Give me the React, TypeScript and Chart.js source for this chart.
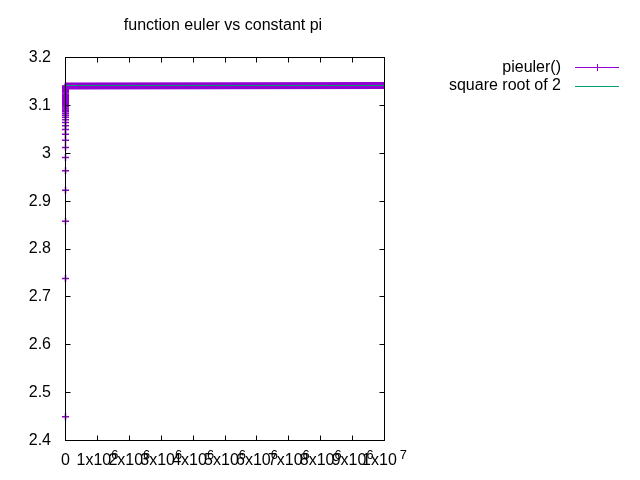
import React, { useEffect, useRef } from "react";
import { Chart, registerables } from "chart.js";

Chart.register(...registerables);

// ---- data ----
const eulerN = [
  1, 2, 3, 4, 5, 6, 7, 8, 9, 10, 11, 12, 13, 14, 15, 16, 17, 18, 19, 20, 21, 22, 23, 24, 25, 26, 27, 28, 29, 30,
  31, 32, 33, 34, 35, 36, 37, 38, 39, 40, 45, 50, 60, 70, 80, 90, 100, 120, 150, 200, 300, 500, 1000,
];
const eulerValues = [
  2.44949, 2.73861, 2.85774, 2.92261, 2.96339, 2.99138, 3.01177, 3.0273, 3.03951, 3.04936, 3.05748, 3.06429,
  3.07008, 3.07506, 3.07939, 3.08319, 3.08656, 3.08956, 3.09224, 3.09467, 3.09687, 3.09887, 3.1007, 3.10238,
  3.10392, 3.10535, 3.10668, 3.10791, 3.10906, 3.11013, 3.11128, 3.11222, 3.11309, 3.11392, 3.1147, 3.11543,
  3.11613, 3.11679, 3.11742, 3.11802, 3.12061, 3.12268, 3.12581, 3.12805, 3.12973, 3.13104, 3.13209, 3.13367,
  3.13525, 3.13683, 3.13841, 3.13968, 3.14064,
];
const eulerTailN = [1000, 10000000];
const eulerTailValues = [3.14064, 3.14159];
const constantX = [0, 10000000];
const constantValues = [3.14159, 3.14159];

const xTickValues = [0, 1e6, 2e6, 3e6, 4e6, 5e6, 6e6, 7e6, 8e6, 9e6, 1e7];
const xTickMantissa = ["0", "1x10", "2x10", "3x10", "4x10", "5x10", "6x10", "7x10", "8x10", "9x10", "1x10"];
const xTickExponent = ["", "6", "6", "6", "6", "6", "6", "6", "6", "6", "7"];
const yTickValues = [2.4, 2.5, 2.6, 2.7, 2.8, 2.9, 3.0, 3.1, 3.2];
const yTickLabels = ["2.4", "2.5", "2.6", "2.7", "2.8", "2.9", "3", "3.1", "3.2"];

const titleText = "function euler vs constant pi";
const legendLabels = ["pieuler()", "square root of 2"];

const PURPLE = "#9400d3";
const TEAL = "#009e73";
const FONT = "16px 'Liberation Sans', Arial, sans-serif";
const SUP_FONT = "12.8px 'Liberation Sans', Arial, sans-serif";

const decorPlugin = {
  id: "gnuplotDecor",
  afterDatasetsDraw(chart: any) {
    const ctx = chart.ctx as CanvasRenderingContext2D;
    const area = chart.chartArea;
    const xs = chart.scales.x;
    const ys = chart.scales.y;
    const tick = 5;
    const crisp = (v: number) => Math.round(v - 0.5) + 0.5;
    ctx.save();
    ctx.strokeStyle = "#000";
    ctx.lineWidth = 1;
    // frame
    ctx.strokeRect(area.left, area.top, area.right - area.left, area.bottom - area.top);
    ctx.beginPath();
    yTickValues.forEach((v) => {
      const y = crisp(ys.getPixelForValue(v));
      ctx.moveTo(area.left, y);
      ctx.lineTo(area.left + tick, y);
      ctx.moveTo(area.right, y);
      ctx.lineTo(area.right - tick, y);
    });
    xTickValues.forEach((v) => {
      const x = crisp(xs.getPixelForValue(v));
      ctx.moveTo(x, area.bottom);
      ctx.lineTo(x, area.bottom - tick);
      ctx.moveTo(x, area.top);
      ctx.lineTo(x, area.top + tick);
    });
    ctx.stroke();

    ctx.fillStyle = "#000";
    // y labels
    ctx.font = FONT;
    ctx.textAlign = "right";
    ctx.textBaseline = "middle";
    yTickValues.forEach((v, i) => {
      ctx.fillText(yTickLabels[i], 51, ys.getPixelForValue(v));
    });
    // x labels with superscripts
    ctx.textAlign = "left";
    ctx.textBaseline = "alphabetic";
    xTickValues.forEach((v, i) => {
      ctx.font = FONT;
      const m = xTickMantissa[i];
      const e = xTickExponent[i];
      const wm = ctx.measureText(m).width;
      ctx.font = SUP_FONT;
      const gap = i === xTickValues.length - 1 ? 3 : 0;
      const we = e ? ctx.measureText(e).width + gap : 0;
      const cx = xs.getPixelForValue(v);
      const start = cx - (wm + we) / 2;
      ctx.font = FONT;
      ctx.fillText(m, start, 465);
      if (e) {
        ctx.font = SUP_FONT;
        ctx.fillText(e, start + wm + gap, 459);
      }
    });
    // title
    ctx.font = FONT;
    ctx.textAlign = "center";
    ctx.fillText(titleText, 223, 30);
    // legend
    ctx.textAlign = "right";
    ctx.textBaseline = "middle";
    const rows = [67.5, 86];
    ctx.fillText(legendLabels[0], 561, rows[0]);
    ctx.fillText(legendLabels[1], 561, rows[1]);
    ctx.strokeStyle = PURPLE;
    ctx.beginPath();
    ctx.moveTo(575, crisp(rows[0]));
    ctx.lineTo(619, crisp(rows[0]));
    ctx.moveTo(597.5, crisp(rows[0]) - 3.5);
    ctx.lineTo(597.5, crisp(rows[0]) + 3.5);
    ctx.stroke();
    ctx.strokeStyle = TEAL;
    ctx.beginPath();
    ctx.moveTo(575, crisp(rows[1]));
    ctx.lineTo(619, crisp(rows[1]));
    ctx.stroke();
    ctx.restore();
  },
};

export default function App() {
  const ref = useRef<HTMLCanvasElement | null>(null);
  useEffect(() => {
    if (!ref.current) return;
    const chart = new Chart(ref.current, {
      type: "scatter",
      data: {
        datasets: [
          {
            label: legendLabels[1],
            data: constantX.map((x, i) => ({ x, y: constantValues[i] })),
            showLine: true,
            borderColor: TEAL,
            borderWidth: 1,
            pointRadius: 0,
            order: 0,
          },
          {
            label: legendLabels[0],
            data: eulerN.map((x, i) => ({ x, y: eulerValues[i] })),
            showLine: true,
            clip: false,
            borderColor: PURPLE,
            backgroundColor: PURPLE,
            borderWidth: 1,
            pointStyle: "cross",
            pointRadius: 3.5,
            pointBorderWidth: 1.5,
            pointBorderColor: PURPLE,
            order: 1,
          },
          {
            label: "tail",
            data: eulerTailN.map((x, i) => ({ x, y: eulerTailValues[i] })),
            showLine: true,
            borderColor: PURPLE,
            borderWidth: 7,
            borderCapStyle: "butt",
            pointRadius: 0,
            order: 2,
          },
        ],
      },
      options: {
        responsive: false,
        animation: false,
        layout: { padding: { left: 65.5, right: 255.5, top: 57.5, bottom: 39.5 } },
        scales: {
          x: { type: "linear", min: 0, max: 10000000, display: false },
          y: { type: "linear", min: 2.4, max: 3.2, display: false },
        },
        plugins: { legend: { display: false }, tooltip: { enabled: false }, title: { display: false } },
      },
      plugins: [decorPlugin],
    } as any);
    return () => chart.destroy();
  }, []);
  return (
    <div style={{ position: "absolute", left: 0, top: 0, width: 640, height: 480, background: "#fff" }}>
      <canvas ref={ref} width={640} height={480} style={{ width: 640, height: 480 }} />
    </div>
  );
}
